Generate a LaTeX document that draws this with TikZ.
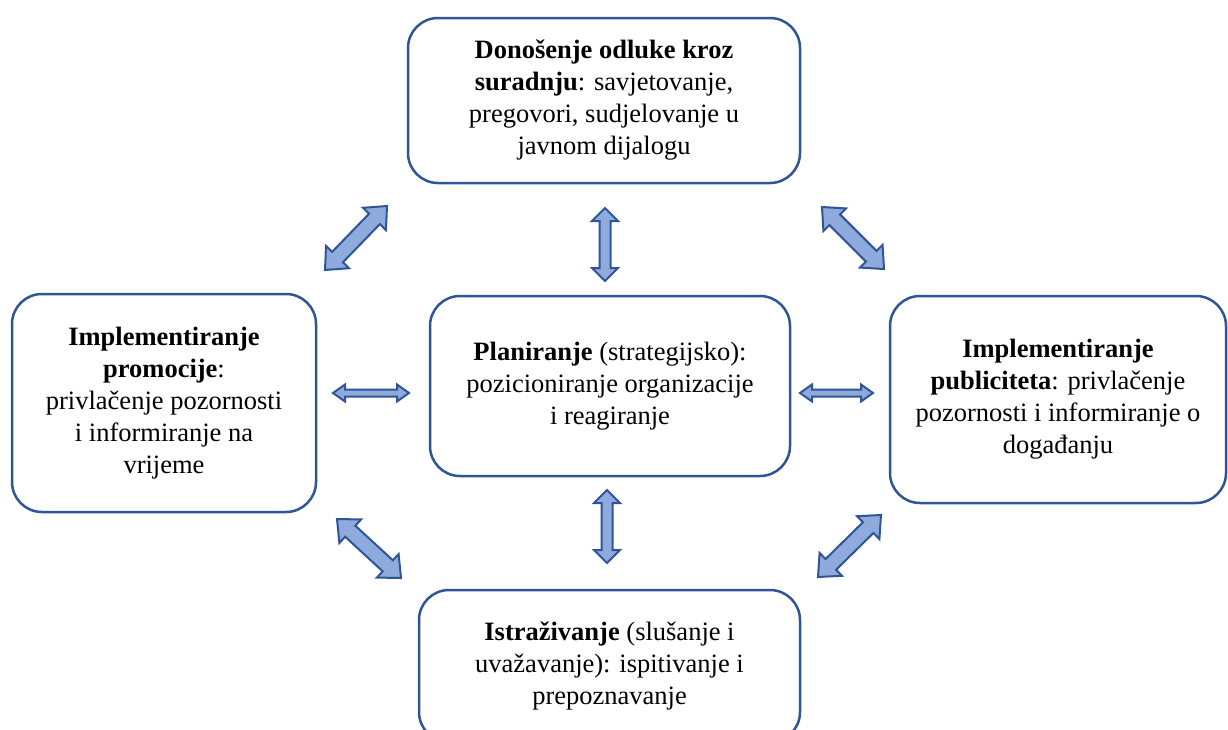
\documentclass[tikz,border=0pt]{standalone}
\usepackage{fontspec}
\setmainfont{Liberation Serif}
\usetikzlibrary{calc}
\definecolor{bdr}{HTML}{2F5597}
\definecolor{afill}{HTML}{8FAADC}
\newcommand\dblarr[5]{%
  \coordinate (tA) at #1; \coordinate (tB) at #2;
  \coordinate (hA) at ($(tA)!#5!(tB)$); \coordinate (hB) at ($(tB)!#5!(tA)$);
  \filldraw[arr] (tA) -- ($(hA)!#4!90:(tB)$) -- ($(hA)!#3!90:(tB)$) -- ($(hB)!#3!-90:(tA)$) -- ($(hB)!#4!-90:(tA)$) -- (tB)
    -- ($(hB)!#4!90:(tA)$) -- ($(hB)!#3!90:(tA)$) -- ($(hA)!#3!-90:(tB)$) -- ($(hA)!#4!-90:(tB)$) -- cycle;}
\tikzset{
  box/.style={draw=bdr, line width=2.5pt, rounded corners=30pt, fill=white, align=center,
    font=\fontsize{26.5}{32}\selectfont, inner sep=0pt},
  arr/.style={draw=bdr, fill=afill, line width=2pt, line join=miter}
}
\begin{document}
\begin{tikzpicture}[x=1pt,y=-1pt]
\useasboundingbox (0,0) rectangle (1228,729);
\clip (0,0) rectangle (1228,729);
\node[box, minimum width=392pt, minimum height=165pt] (top) at (604,100.5)
  {\textbf{Donošenje odluke kroz}\\\textbf{suradnju}: savjetovanje,\\pregovori, sudjelovanje u\\javnom dijalogu};
\node[box, minimum width=304pt, minimum height=218pt] (left) at (164,403)
  {\textbf{Implementiranje}\\\textbf{promocije}:\\privlačenje pozornosti\\i informiranje na\\vrijeme};
\node[box, minimum width=360pt, minimum height=180pt] (center) at (610,386)
  {\textbf{Planiranje} (strategijsko):\\pozicioniranje organizacije\\i reagiranje};
\node[box, minimum width=336pt, minimum height=207pt] (right) at (1058,399.5)
  {\textbf{Implementiranje}\\\textbf{publiciteta}: privlačenje\\pozornosti i informiranje o\\događanju};
\node[box, minimum width=381pt, minimum height=152pt] (bottom) at (609.5,666)
  {\textbf{Istraživanje} (slušanje i\\uvažavanje): ispitivanje i\\prepoznavanje};
% diagonal arrows
\dblarr{(325,270)}{(387,206)}{7.5pt}{16pt}{18pt}
\dblarr{(822,207)}{(884,269)}{7.5pt}{16pt}{18pt}
\dblarr{(337,519)}{(401,578)}{7.5pt}{16pt}{18pt}
\dblarr{(818,577)}{(881,515)}{7.5pt}{16pt}{18pt}
% vertical arrows
\dblarr{(605,208)}{(605,281)}{5.5pt}{13pt}{13pt}
\dblarr{(607,490)}{(607,563)}{5.5pt}{13pt}{13pt}
% horizontal arrows
\dblarr{(333,393)}{(409,393)}{3.5pt}{8.5pt}{12pt}
\dblarr{(800,393)}{(873,393)}{3.5pt}{8.5pt}{12pt}
\end{tikzpicture}
\end{document}
